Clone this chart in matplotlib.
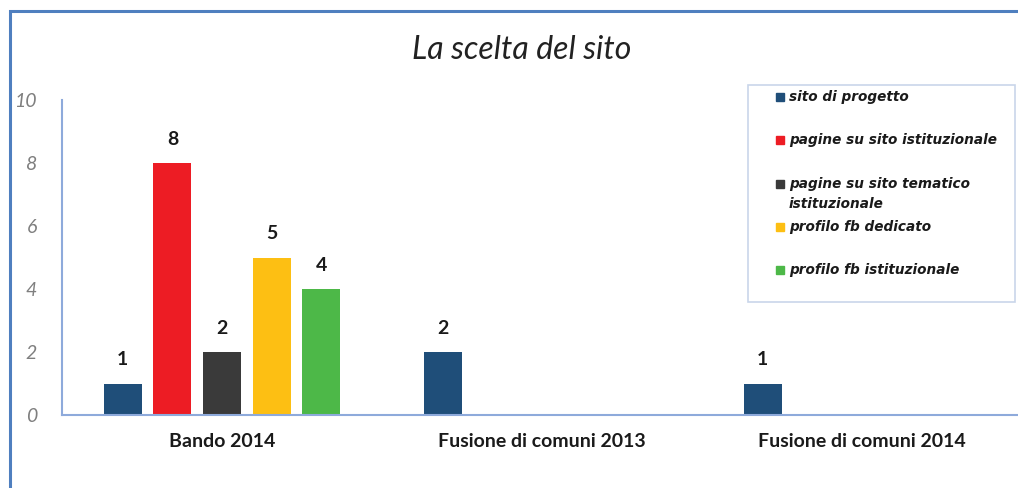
import numpy as np
import matplotlib
matplotlib.use('Agg')
from matplotlib import pyplot as plt
from matplotlib.patches import Rectangle

categories = ['Bando 2014', 'Fusione di comuni 2013', 'Fusione di comuni 2014']
series = ['sito di progetto', 'pagine su sito istituzionale',
          'pagine su sito tematico\nistituzionale', 'profilo fb dedicato',
          'profilo fb istituzionale']
values = [
    [1, 2, 1],
    [8, 0, 0],
    [2, 0, 0],
    [5, 0, 0],
    [4, 0, 0],
]
colors = ['#1f4e79', '#ed1c24', '#3a3a3a', '#fdbf13', '#4db848']

fig = plt.figure(figsize=(10.18, 4.88), dpi=100)
ax = fig.add_axes([62 / 1018, 1 - 415 / 488, 960 / 1018, 315 / 488])

# outer chart frame (only top and left visible in reference)
fig.patches.append(Rectangle((10 / 1018, -0.05), 1.1, 1 - 11 / 488 + 0.05,
                             transform=fig.transFigure, fill=False,
                             edgecolor='#4f7fbf', linewidth=2.2))

x = np.arange(len(categories))
w = 0.119
step = 0.155
for i, (name, vals) in enumerate(zip(series, values)):
    pos = x + (i - 2) * step
    ax.bar(pos, vals, width=w, color=colors[i], label=name)
    for px, v in zip(pos, vals):
        if v > 0:
            ax.text(px, v + 0.75, str(v), ha='center', va='center',
                    fontsize=14, fontweight='bold', family='Lato', color='#1a1a1a')

ax.set_xlim(-0.5, 2.5)
ax.set_ylim(0, 10)
ax.set_yticks([0, 2, 4, 6, 8, 10])
ax.set_xticks(x)
ax.set_xticklabels(categories, fontsize=14, fontweight='bold', family='Lato', color='#1a1a1a')
for t in ax.get_yticklabels():
    t.set_fontstyle('italic')
    t.set_fontsize(14)
    t.set_color('#7f7f7f')
    t.set_family('Lato')
ax.tick_params(axis='both', length=0)
ax.tick_params(axis='y', pad=18)
ax.tick_params(axis='x', pad=13)
for s in ['top', 'right']:
    ax.spines[s].set_visible(False)
for s in ['left', 'bottom']:
    ax.spines[s].set_color('#8eaadb')
    ax.spines[s].set_linewidth(1.5)

fig.text(522 / 1018, 1 - 50 / 488, 'La scelta del sito', ha='center', va='center',
         fontsize=23, fontstyle='italic', family='Lato', color='#222222')

# legend box drawn by hand: fixed slots, multi-line entry overflows like the original
fig.patches.append(Rectangle((748 / 1018, 1 - 302 / 488), 267 / 1018, 217 / 488,
                             transform=fig.transFigure, fill=False,
                             edgecolor='#c9d6ea', linewidth=1.2))
for i, (name, c) in enumerate(zip(series, colors)):
    ytop = 97 + 43.3 * i
    fig.patches.append(Rectangle((776 / 1018, 1 - (ytop + 4) / 488), 8 / 1018, 8 / 488,
                                 transform=fig.transFigure, color=c))
    fig.text(789 / 1018, 1 - (ytop - 7) / 488, name, ha='left', va='top',
             fontsize=9.8, fontweight='bold', fontstyle='italic',
             family='DejaVu Sans', color='#1a1a1a', linespacing=1.6)

fig.savefig('out.png', dpi=100)
